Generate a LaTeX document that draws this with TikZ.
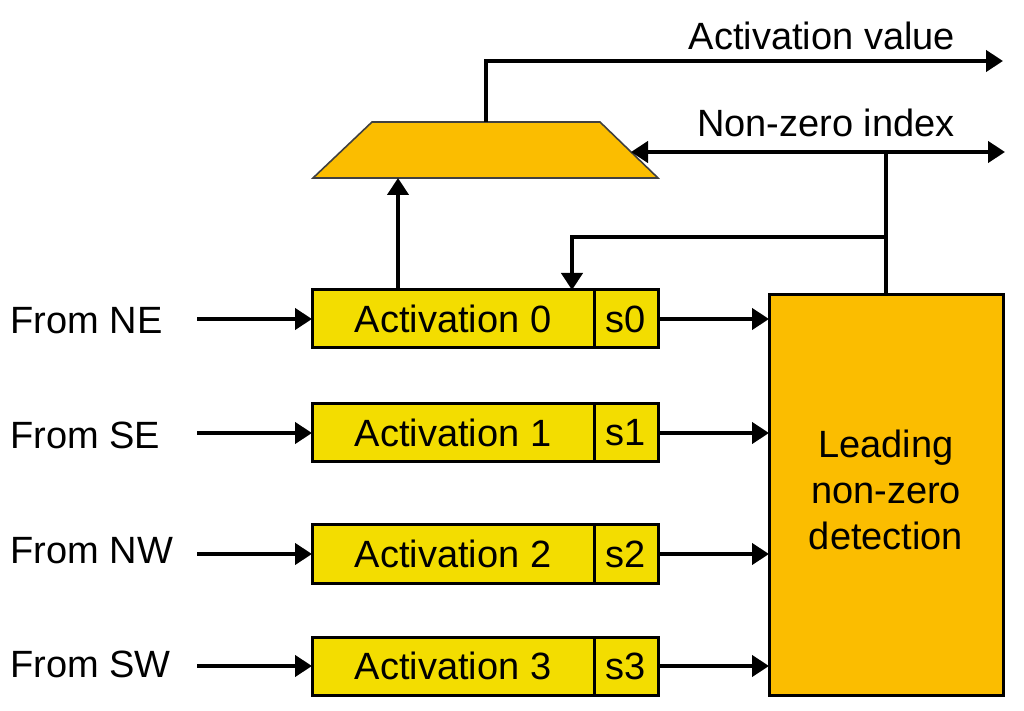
\documentclass[tikz,border=0pt]{standalone}
\usepackage{fontspec}
\setmainfont{Liberation Sans}
\usetikzlibrary{arrows.meta}
\definecolor{actyellow}{HTML}{F3DD00}
\definecolor{ldorange}{HTML}{FBBD00}
\begin{document}
\begin{tikzpicture}[x=0.5pt,y=-0.5pt,
  every node/.style={font=\fontsize{19}{23}\selectfont, text=black},
  actbox/.style={draw=black, line width=1.5pt, fill=actyellow, minimum width=141pt, minimum height=29pt, inner sep=0pt, outer sep=0pt, anchor=north west},
  sbox/.style={draw=black, line width=1.5pt, fill=actyellow, minimum width=32pt, minimum height=29pt, inner sep=0pt, outer sep=0pt, anchor=west},
  ldbox/.style={draw=black, line width=1.5pt, fill=ldorange, minimum width=117pt, minimum height=200pt, inner sep=0pt, outer sep=0pt, anchor=north west, align=center},
  conn/.style={line width=2.2pt, -{Triangle[length=8.5pt,width=10.5pt]}},
  wire/.style={line width=2.2pt},
  lbl/.style={anchor=west, inner sep=0pt}]
\useasboundingbox (0,0) rectangle (1024,711);

% multiplexer (trapezoid)
\filldraw[fill=ldorange, draw=black!75, line width=0.8pt]
  (313,178) -- (372,122) -- (600,122) -- (658,178) -- cycle;
\coordinate (mtop) at (486,122);
\coordinate (mbot) at (398,178);
\coordinate (mright) at (631,152);

% activation registers
\node[actbox] (a0) at (312,290) {Activation 0};
\node[sbox] (s0) at (a0.east) {s0};
\node[actbox] (a1) at (312,404) {Activation 1};
\node[sbox] (s1) at (a1.east) {s1};
\node[actbox] (a2) at (312,525) {Activation 2};
\node[sbox] (s2) at (a2.east) {s2};
\node[actbox] (a3) at (312,637) {Activation 3};
\node[sbox] (s3) at (a3.east) {s3};

% leading non-zero detection
\node[ldbox] (ld) at (769,295) {};
\node[align=center] (ldt) at ([yshift=2.5pt]ld.center) {Leading\\non-zero\\detection};

% input labels
\node[lbl] (f0) at (10,321) {From NE};
\node[lbl] (f1) at (10,435) {From SE};
\node[lbl] (f2) at (10,551) {From NW};
\node[lbl] (f3) at (10,664) {From SW};
\coordinate (i0) at (197,0);

\draw[conn] (a0.west -| i0) -- (a0.west);
\draw[conn] (a1.west -| i0) -- (a1.west);
\draw[conn] (a2.west -| i0) -- (a2.west);
\draw[conn] (a3.west -| i0) -- (a3.west);

\draw[conn] (s0.east) -- (s0.east -| ld.west);
\draw[conn] (s1.east) -- (s1.east -| ld.west);
\draw[conn] (s2.east) -- (s2.east -| ld.west);
\draw[conn] (s3.east) -- (s3.east -| ld.west);

% to the multiplexer
\draw[conn] (a0.north -| mbot) -- (mbot);

% activation value output
\coordinate (av) at (1003,61);
\draw[conn] (mtop) |- (av);
\node[anchor=base] (avl) at (822,50) {Activation value};

% non-zero index
\coordinate (nz) at (1005,152);
\draw[line width=2.2pt, {Triangle[length=8.5pt,width=10.5pt]}-{Triangle[length=8.5pt,width=10.5pt]}] (mright) -- (nz);
\node[anchor=base] (nzl) at (826,137) {Non-zero index};
\draw[wire] (ld.north) -- (ld.north |- nz);
\coordinate (br) at (572,237);
\draw[conn] (ld.north |- br) -| (a0.north -| br);
\end{tikzpicture}
\end{document}
